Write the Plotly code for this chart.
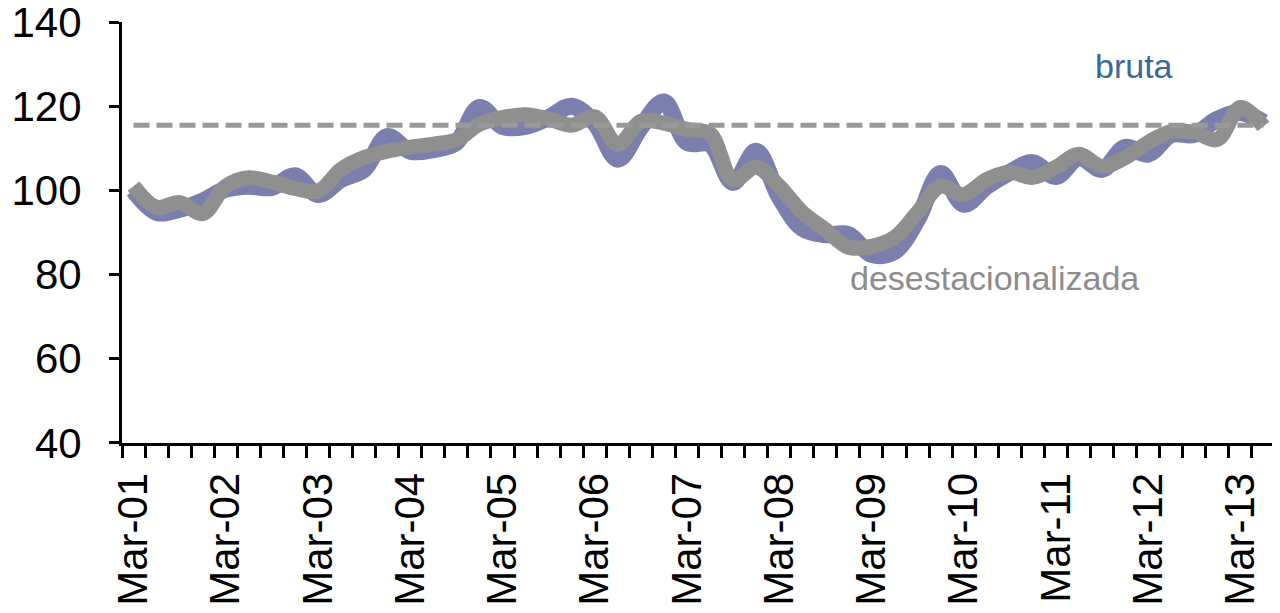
import plotly.graph_objects as go

# Quarterly periods Mar-01 .. Jun-13
years = ["01", "02", "03", "04", "05", "06", "07", "08", "09", "10", "11", "12", "13"]
months = ["Mar", "Jun", "Sep", "Dec"]
quarters = [f"{m}-{y}" for y in years for m in months][:50]

bruta = [100, 94.8, 95.5, 97.5, 100.3, 101, 100.7, 103.5, 99, 102.6,
         105, 112.8, 109.3, 109.7, 111.4, 119.7, 115.2, 115.2, 117.3, 120,
         116, 107.4, 115, 121, 111.4, 111, 101.9, 109.3, 98.5, 91,
         89.5, 89.5, 84.8, 85.5, 93.1, 104, 96.7, 101, 104.3, 106.6,
         103.3, 107.8, 105, 110.2, 108.6, 113.3, 113.3, 116.9, 118.5, 116.2]

desestacionalizada = [101, 96.0, 97.1, 94.5, 101, 103, 102, 100.5, 99.8, 105,
                      107.8, 109.3, 110.3, 111, 112, 115.7, 117.3, 118, 117, 115.5,
                      117.5, 110.9, 116.4, 116, 114.5, 113.5, 102.5, 105.5, 101, 94.8,
                      90.7, 86.5, 86.7, 88.8, 94.8, 101, 99, 102.6, 104.3, 103.1,
                      105.5, 108.6, 105.7, 107.8, 111.4, 114, 113.8, 112.1, 119.7, 115.2]

promedio = 115.5

tick_labels = ["Mar-01", "Mar-02", "Mar-03", "Mar-04", "Mar-05", "Mar-06", "Mar-07",
               "Mar-08", "Mar-09", "Mar-10", "Mar-11", "Mar-12", "Mar-13"]
y_ticks = [40, 60, 80, 100, 120, 140]

x = list(range(len(quarters)))
tick_pos = [quarters.index(t) for t in tick_labels]

fig = go.Figure()
fig.add_trace(go.Scatter(x=x, y=bruta, mode="lines", name="bruta",
                         line=dict(color="#7b7fad", width=17, shape="spline", smoothing=1),
                         customdata=quarters, cliponaxis=False))
fig.add_trace(go.Scatter(x=x, y=desestacionalizada, mode="lines", name="desestacionalizada",
                         line=dict(color="#8f8f8f", width=15, shape="spline", smoothing=1),
                         customdata=quarters, cliponaxis=False))
fig.add_trace(go.Scatter(x=x, y=[promedio] * len(x), mode="lines", name="promedio",
                         line=dict(color="#999999", width=5, dash="16px,7px")))

label_font = "Liberation Sans Narrow, Arial Narrow, Liberation Sans, Arial, sans-serif"
fig.add_annotation(x=43.4, y=129.6, text="bruta", showarrow=False,
                   font=dict(family=label_font, size=34, color="#3a679b"))
fig.add_annotation(x=37.35, y=79.2, text="desestacionalizada", showarrow=False,
                   font=dict(family=label_font, size=34, color="#8c8c8c"))

# page body has an 8px default margin: compensate so the plot lands where the reference has it
fig.update_layout(
    width=1280, height=613,
    margin=dict(l=114, r=13, t=14, b=178),
    paper_bgcolor="white", plot_bgcolor="white",
    showlegend=False,
    font=dict(family="Liberation Sans, Arial, sans-serif", color="black"),
)
fig.update_xaxes(
    range=[-0.5, len(x) - 0.5], automargin=False,
    showline=True, linecolor="black", linewidth=3,
    showgrid=False, zeroline=False,
    tickmode="array", tickvals=tick_pos, ticktext=tick_labels,
    ticks="", tickangle=-90, tickfont=dict(size=42, color="black"),
    ticklabelstandoff=10, ticklabeloverflow="allow",
    minor=dict(tickmode="array", tickvals=[i - 0.5 for i in range(len(x) + 1)],
               ticks="outside", ticklen=12, tickwidth=3, tickcolor="black"),
)
fig.update_yaxes(
    range=[39.99, 140.01], automargin=False,
    tickmode="array", tickvals=y_ticks,
    showline=True, linecolor="black", linewidth=3,
    showgrid=False, zeroline=False,
    ticks="outside", ticklen=10, tickwidth=3, tickcolor="black",
    tickfont=dict(size=42, color="black"),
    ticklabelstandoff=19, ticklabeloverflow="allow",
)

fig.write_html("out.html")
